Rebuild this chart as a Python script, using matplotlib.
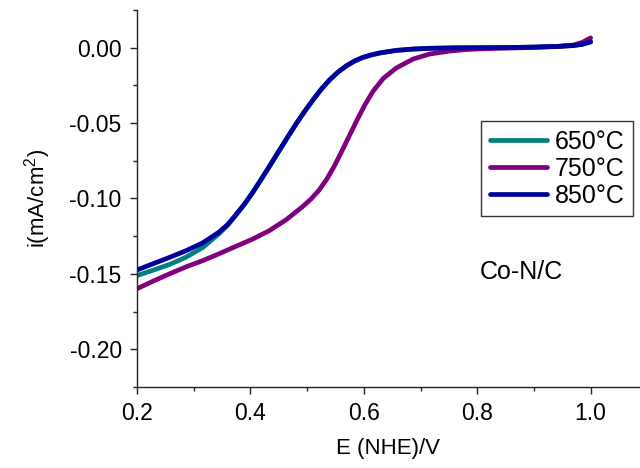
import matplotlib
matplotlib.use("Agg")
import matplotlib.pyplot as plt
from matplotlib.ticker import MultipleLocator

plt.rcParams["font.family"] = ["Liberation Sans", "DejaVu Sans"]
plt.rcParams["mathtext.fontset"] = "custom"
plt.rcParams["mathtext.rm"] = "Liberation Sans"

# LSV curves, E in V vs NHE, i in mA/cm2
E_850 = [0.200, 0.228, 0.257, 0.286, 0.316, 0.345, 0.360, 0.374, 0.390, 0.404, 0.417, 0.433,
         0.452, 0.467, 0.481, 0.496, 0.511, 0.525, 0.540, 0.555, 0.570, 0.584, 0.598, 0.613,
         0.628, 0.657, 0.687, 0.716, 0.760, 0.800, 0.850, 0.900, 0.940, 0.970, 0.985, 1.000]
i_850 = [-0.1474, -0.1433, -0.1391, -0.1347, -0.1294, -0.1222, -0.1172, -0.1110, -0.1035, -0.0960, -0.0885, -0.0790,
         -0.0675, -0.0585, -0.0503, -0.0420, -0.0343, -0.0275, -0.0212, -0.0160, -0.0118, -0.0088, -0.0065, -0.0048,
         -0.0035, -0.0018, -0.0009, -0.0004, -0.0001, 0.0000, 0.0001, 0.0004, 0.0008, 0.0014, 0.0022, 0.0038]

E_650 = [0.200, 0.228, 0.257, 0.286, 0.316, 0.345, 0.360, 0.374, 0.390, 0.404, 0.417, 0.433,
         0.452, 0.467, 0.481, 0.496, 0.511, 0.525, 0.540, 0.555, 0.570, 0.584, 0.598, 0.613,
         0.628, 0.657, 0.687, 0.716, 0.760, 0.800, 0.850, 0.900, 0.940, 0.970, 0.985, 1.000]
i_650 = [-0.1511, -0.1476, -0.1438, -0.1390, -0.1325, -0.1232, -0.1177, -0.1112, -0.1035, -0.0960, -0.0885, -0.0790,
         -0.0675, -0.0585, -0.0503, -0.0420, -0.0343, -0.0275, -0.0212, -0.0160, -0.0118, -0.0088, -0.0065, -0.0048,
         -0.0035, -0.0018, -0.0009, -0.0004, -0.0001, 0.0000, 0.0001, 0.0004, 0.0008, 0.0015, 0.0024, 0.0040]

E_750 = [0.200, 0.228, 0.257, 0.286, 0.316, 0.345, 0.374, 0.404, 0.433, 0.463, 0.492, 0.507,
         0.521, 0.535, 0.548, 0.562, 0.575, 0.588, 0.602, 0.616, 0.634, 0.657, 0.687, 0.716,
         0.752, 0.781, 0.810, 0.840, 0.900, 0.940, 0.970, 0.985, 1.000]
i_750 = [-0.1598, -0.1549, -0.1500, -0.1454, -0.1412, -0.1366, -0.1318, -0.1269, -0.1214, -0.1141, -0.1054, -0.1003,
         -0.0945, -0.0870, -0.0785, -0.0680, -0.0580, -0.0480, -0.0378, -0.0290, -0.0205, -0.0135, -0.0075, -0.0042,
         -0.0022, -0.0012, -0.0007, -0.0004, 0.0002, 0.0008, 0.0018, 0.0035, 0.0065]

labels = ["650°C", "750°C", "850°C"]
colors = ["#008080", "#800080", "#00009c"]

fig = plt.figure(figsize=(6.4, 4.68), dpi=100)
ax = fig.add_axes([137 / 640, 81 / 468, 503 / 640, 377 / 468])

for E, i, lab, c in zip([E_650, E_750, E_850], [i_650, i_750, i_850], labels, colors):
    ax.plot(E, i, color=c, lw=3.4, label=lab, solid_capstyle="round", solid_joinstyle="round")

ax.set_xlim(0.2, 1.087)
ax.set_ylim(-0.225, 0.025)
ax.xaxis.set_major_locator(MultipleLocator(0.2))
ax.xaxis.set_minor_locator(MultipleLocator(0.1))
ax.yaxis.set_major_locator(MultipleLocator(0.05))
ax.yaxis.set_minor_locator(MultipleLocator(0.025))
ax.xaxis.set_major_formatter(plt.FormatStrFormatter("%.1f"))
ax.yaxis.set_major_formatter(plt.FormatStrFormatter("%.2f"))

for s in ["top", "right"]:
    ax.spines[s].set_visible(False)
for s in ["left", "bottom"]:
    ax.spines[s].set_color("#222222")
    ax.spines[s].set_linewidth(1.0)

ax.tick_params(which="major", direction="out", length=5, width=1, labelsize=16.5,
               color="#222222", pad=6)
ax.tick_params(which="minor", direction="out", length=3, width=1, color="#222222")

ax.set_xlabel("E (NHE)/V", fontsize=16, labelpad=9)
ax.set_ylabel("i(mA/cm$^2$)", fontsize=16, labelpad=12)

ax.text(0.765, 0.305, "Co-N/C", transform=ax.transAxes, fontsize=18, ha="center", va="center")

leg = ax.legend(loc="upper left", bbox_to_anchor=(0.684, 0.7056), borderaxespad=0,
                fontsize=18, frameon=True, fancybox=False, handlelength=2.3,
                handletextpad=0.3, labelspacing=0.12, borderpad=0.35)
leg.get_frame().set_edgecolor("black")
leg.get_frame().set_linewidth(1.0)
for h in leg.get_lines():
    h.set_linewidth(3.4)

fig.savefig("out.png", dpi=100)
